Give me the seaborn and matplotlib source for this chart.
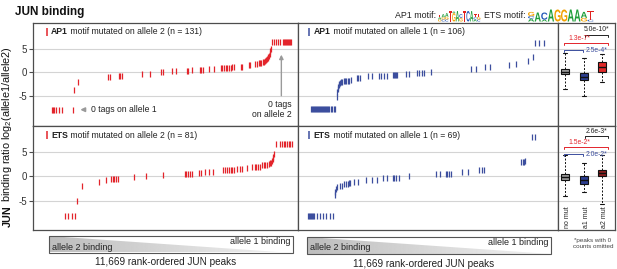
import matplotlib
matplotlib.use("Agg")
import matplotlib.pyplot as plt
import seaborn as sns
import numpy as np
import pandas as pd
from matplotlib.textpath import TextPath
from matplotlib.patches import PathPatch, Polygon, Rectangle
from matplotlib.font_manager import FontProperties
from matplotlib.transforms import Affine2D, blended_transform_factory

sns.set_style("white")
plt.rcParams["font.family"] = ["Liberation Sans", "DejaVu Sans"]
plt.rcParams["axes.unicode_minus"] = False
plt.rcParams["mathtext.fontset"] = "custom"
plt.rcParams["mathtext.rm"] = "Liberation Sans"
plt.rcParams["mathtext.default"] = "regular"

RED = "#e3242b"
BLUE = "#3c4e9e"
N_PEAKS = 11669

# AP1 motif mutated on allele 2 (red, top left)
ap1_a2_rank = [819, 877, 936, 994, 1155, 1257, 1754, 1813, 1988, 3290, 3377, 3787, 3845, 3918,
               4781, 5146, 5658, 5731, 6111, 6301, 6769, 6828, 7018, 7339, 7412, 7500, 7749, 7968,
               8275, 8333, 8421, 8480, 8553, 8626, 8699, 8772, 8845, 9138, 9211, 9503, 9576, 9795,
               9869, 9942, 10000, 10059, 10117, 10161, 10205, 10249, 10292, 10336, 10366, 10395,
               10424, 10453, 10483, 10526, 10599, 10716, 10789, 10863, 10994, 11038, 11082, 11126,
               11170, 11213, 11257, 11301, 11345]
ap1_a2_ratio = [-8.0, -8.0, -8.0, -8.0, -8.0, -8.0, -8.0, -3.7, -2.1, -0.9, -0.9, -0.75, -0.75, -0.7,
                -0.3, -0.25, 0.1, 0.1, 0.2, 0.2, 0.35, 0.35, 0.5, 0.6, 0.6, 0.6, 0.7, 0.75,
                0.9, 0.9, 0.95, 1.0, 1.0, 1.05, 1.05, 1.1, 1.1, 1.2, 1.25, 1.6, 1.65, 1.8,
                1.9, 1.95, 2.0, 2.1, 2.2, 2.3, 2.4, 2.6, 2.8, 3.0, 3.3, 3.6,
                4.0, 4.5, 5.0, 6.6, 6.6, 6.6, 6.6, 6.6, 6.6, 6.6, 6.6, 6.6,
                6.6, 6.6, 6.6, 6.6, 6.6]

# AP1 motif mutated on allele 1 (blue, top middle)
ap1_a1_rank = [566, 611, 656, 700, 745, 790, 834, 879, 924, 969, 1013, 1058, 1103, 1147, 1192, 1237,
               1281, 1326, 1386, 1460, 1535, 1609, 1669, 1743, 1758, 1773, 1788, 1818, 1848, 1892,
               1937, 1997, 2086, 2131, 2175, 2235, 2310, 2384, 2652, 2712, 2786, 3159, 3308, 3651,
               3725, 3844, 3978, 4276, 4321, 4366, 4410, 4455, 4843, 4992, 5334, 5439, 5543, 5662,
               5990, 7748, 8001, 8374, 8612, 9476, 9774, 10341, 10549, 10654, 10832, 11026]
ap1_a1_ratio = [-7.9, -7.9, -7.9, -7.9, -7.9, -7.9, -7.9, -7.9, -7.9, -7.9, -7.9, -7.9, -7.9, -7.9, -7.9, -7.9,
                -7.9, -7.9, -7.9, -7.9, -7.9, -7.9, -7.9, -5.3, -4.3, -3.6, -3.1, -2.8, -2.5, -2.3,
                -2.15, -2.0, -1.9, -1.9, -1.85, -1.8, -1.75, -1.6, -1.3, -1.25, -1.2, -0.85, -0.85, -0.75,
                -0.75, -0.7, -0.7, -0.55, -0.55, -0.5, -0.5, -0.5, -0.3, -0.3, -0.15, -0.15, -0.1, -0.1,
                0.1, 0.8, 0.8, 1.1, 1.15, 1.55, 1.8, 2.5, 3.4, 6.4, 6.4, 6.4]

# ETS motif mutated on allele 2 (red, bottom left)
ets_a2_rank = [1389, 1535, 1711, 1871, 1930, 2164, 2924, 3216, 3421, 3509, 3582, 3655, 3743, 4459,
               4985, 5716, 6696, 6754, 6828, 6901, 6988, 7310, 7398, 7573, 7749, 7909, 8363, 8450,
               8523, 8611, 8699, 8772, 8845, 8991, 9108, 9211, 9430, 9649, 9766, 9825, 9912, 9985,
               10088, 10161, 10234, 10307, 10380, 10439, 10497, 10526, 10556, 10585, 10614, 10716,
               10892, 10965, 11038, 11111, 11184, 11257, 11331, 11389]
ets_a2_ratio = [-8.1, -8.1, -8.1, -8.1, -5.1, -2.0, -1.15, -0.8, -0.55, -0.55, -0.55, -0.55, -0.55, -0.15,
                0.0, 0.2, 0.45, 0.45, 0.45, 0.45, 0.45, 0.75, 0.75, 0.95, 0.95, 0.95, 1.35, 1.35,
                1.35, 1.35, 1.35, 1.35, 1.35, 1.4, 1.4, 1.45, 1.6, 1.85, 1.9, 1.9, 1.95, 1.95,
                2.3, 2.35, 2.35, 2.4, 2.6, 2.7, 2.8, 3.2, 3.6, 4.0, 4.6, 6.6,
                6.6, 6.6, 6.6, 6.6, 6.6, 6.6, 6.6, 6.6]

# ETS motif mutated on allele 1 (blue, bottom middle)
ets_a1_rank = [447, 492, 536, 581, 626, 671, 715, 864, 983, 1118, 1252, 1416, 1579, 1639, 1669, 1699,
               1728, 1907, 1982, 2086, 2175, 2235, 2295, 2354, 2533, 2682, 3055, 3308, 3546, 3800,
               3993, 4247, 4321, 4410, 4515, 4992, 6184, 6377, 6631, 6705, 6794, 6884, 7376, 7629,
               8121, 8270, 8344, 10028, 10087, 10147, 10207, 10520, 10654]
ets_a1_ratio = [-8.1, -8.1, -8.1, -8.1, -8.1, -8.1, -8.1, -8.1, -8.1, -8.1, -8.1, -8.1, -8.1, -3.8, -3.2, -2.7,
                -2.2, -2.0, -2.0, -1.55, -1.5, -1.5, -1.45, -1.45, -1.15, -1.15, -0.7, -0.7, -0.7, -0.3,
                -0.3, -0.3, -0.3, -0.3, -0.3, 0.0, 0.55, 0.55, 0.55, 0.55, 0.55, 0.55, 0.9, 0.9,
                1.25, 1.25, 1.3, 2.9, 3.0, 3.0, 3.1, 8.1, 8.1]

# box plot summaries (right column)
box_groups = ["no mut", "a1 mut", "a2 mut"]
ap1_whislo = [-3.6, -5.1, -2.0]
ap1_q1 = [-0.43, -1.66, 0.13]
ap1_med = [0.06, -0.95, 1.2]
ap1_q3 = [0.65, -0.2, 2.15]
ap1_whishi = [4.2, 3.0, 3.9]
ets_whislo = [-4.0, -3.3, -5.6]
ets_q1 = [-0.82, -1.6, 0.06]
ets_med = [-0.14, -0.76, 0.6]
ets_q3 = [0.53, 0.06, 1.2]
ets_whishi = [4.3, 2.8, 4.3]
ap1_pvals = ["5.0e-10*", "1.3e-7*", "2.5e-4*"]
ets_pvals = ["2.6e-3*", "1.5e-2*", "2.0e-2*"]

W, H = 617, 269
fig = plt.figure(figsize=(W / 100, H / 100), dpi=100)


def px_axes(x0, y0, x1, y1):
    return fig.add_axes([x0 / W, 1 - y1 / H, (x1 - x0) / W, (y1 - y0) / H])


def style(ax, ylim, left_ticks):
    ax.set_ylim(*ylim)
    ax.set_yticks([-5, 0, 5])
    ax.yaxis.grid(True, color="#d4d4d4", lw=0.8)
    ax.set_axisbelow(True)
    ax.set_xticks([])
    ax.set_xlabel("")
    ax.set_ylabel("")
    for s in ax.spines.values():
        s.set_color("#4d4d4d")
        s.set_linewidth(0.9)
    if left_ticks:
        ax.tick_params(axis="y", left=True, length=3, width=0.8, color="#4d4d4d",
                       labelsize=7, labelcolor="#333333", pad=1.5)
    else:
        ax.tick_params(axis="y", left=False, labelleft=False)


def tick_scatter(ax, ranks, ratios, color):
    df = pd.DataFrame({"rank": ranks, "ratio": ratios})
    sns.scatterplot(data=df, x="rank", y="ratio", marker="|", s=24, color=color,
                    linewidth=0.9, ax=ax, legend=False, zorder=3)
    ax.set_xlim(0, N_PEAKS)


def panel_label(ax, x, motif, rest, color):
    ax.plot([x - 0.017], [0.913], marker="|", ms=6, mew=1.1, color=color,
            transform=ax.transAxes, clip_on=False)
    t = ax.text(x, 0.913, motif, transform=ax.transAxes, fontsize=6.2, fontweight="bold",
                va="center", ha="left", color="#222222")
    ax.annotate(rest, xy=(1, 0), xycoords=t, va="bottom", ha="left", fontsize=6.2, color="#222222")


def box_panel(ax, lo, q1, med, q3, hi, colors, pvals, ylim, yb, yt):
    stats = [dict(whislo=a, q1=b, med=c, q3=d, whishi=e, label=g)
             for a, b, c, d, e, g in zip(lo, q1, med, q3, hi, box_groups)]
    bp = ax.bxp(stats, positions=[0, 1, 2], widths=0.42, patch_artist=True, showfliers=False,
                boxprops=dict(edgecolor="#111111", linewidth=0.8),
                medianprops=dict(color="#111111", linewidth=1.0),
                whiskerprops=dict(color="#111111", linewidth=0.7, linestyle=(0, (2, 1.6))),
                capprops=dict(color="#111111", linewidth=0.8), capwidths=0.22, manage_ticks=False)
    for patch, c in zip(bp["boxes"], colors):
        patch.set_facecolor(c)
    ax.set_xlim(-0.4, 2.7)
    style(ax, ylim, False)
    # significance brackets: black (a1 vs a2), red (no vs a2), blue (no vs a1)
    d = 0.45
    ax.plot([1.05, 1.05, 2.3, 2.3], [yb[0] - d, yb[0], yb[0], yb[0] - d], color="#222222", lw=0.7)
    ax.text(1.72, yt[0], pvals[0], ha="center", va="center", fontsize=4.9, color="#222222")
    ax.plot([-0.1, -0.1, 2.3, 2.3], [yb[1] - d, yb[1], yb[1], yb[1] - d], color=RED, lw=0.7)
    ax.text(0.75, yt[1], pvals[1], ha="center", va="center", fontsize=4.9, color=RED)
    ax.plot([-0.1, -0.1, 0.95, 0.95], [yb[2] - d, yb[2], yb[2], yb[2] - d], color=BLUE, lw=0.7)
    ax.text(1.1, yb[2], pvals[2], ha="left", va="center", fontsize=4.9, color=BLUE)


ylim_top = (-11.5, 10.6)
ylim_bot = (-11.0, 10.3)

ax_tl = px_axes(33, 23, 298, 126)
ax_tm = px_axes(298, 23, 558, 126)
ax_tr = px_axes(558, 23, 615, 126)
ax_bl = px_axes(33, 126, 298, 230)
ax_bm = px_axes(298, 126, 558, 230)
ax_br = px_axes(558, 126, 615, 230)

tick_scatter(ax_tl, ap1_a2_rank, ap1_a2_ratio, RED)
tick_scatter(ax_tm, ap1_a1_rank, ap1_a1_ratio, BLUE)
tick_scatter(ax_bl, ets_a2_rank, ets_a2_ratio, RED)
tick_scatter(ax_bm, ets_a1_rank, ets_a1_ratio, BLUE)
style(ax_tl, ylim_top, True)
style(ax_tm, ylim_top, False)
style(ax_bl, ylim_bot, True)
style(ax_bm, ylim_bot, False)

panel_label(ax_tl, 0.068, "AP1", " motif mutated on allele 2 (n = 131)", RED)
panel_label(ax_tm, 0.061, "AP1", " motif mutated on allele 1 (n = 106)", BLUE)
panel_label(ax_bl, 0.068, "ETS", " motif mutated on allele 2 (n = 81)", RED)
panel_label(ax_bm, 0.061, "ETS", " motif mutated on allele 1 (n = 69)", BLUE)

# annotations for the zero-tag peaks
ax_tl.annotate("", xy=(1960, -8.0), xytext=(2420, -8.0),
               arrowprops=dict(arrowstyle="-|>", color="#9a9a9a", lw=1.2, mutation_scale=6))
ax_tl.text(2560, -8.0, "0 tags on allele 1", va="center", ha="left", fontsize=6.2, color="#222222")
ax_tl.annotate("", xy=(10936, 4.4), xytext=(10936, -5.6),
               arrowprops=dict(arrowstyle="-|>", color="#9a9a9a", lw=1.0, mutation_scale=6))
ax_tl.text(11400, -6.0, "0 tags\non allele 2", va="top", ha="right", multialignment="right",
           fontsize=6.2, color="#222222", linespacing=1.15)

box_panel(ax_tr, ap1_whislo, ap1_q1, ap1_med, ap1_q3, ap1_whishi,
          ["#9b9b9b", "#2b3d8f", "#e02a2a"], ap1_pvals, ylim_top, [8.0, 6.25, 4.8], [9.2, 7.25])
box_panel(ax_br, ets_whislo, ets_q1, ets_med, ets_q3, ets_whishi,
          ["#9b9b9b", "#2b3d8f", "#8e1f1f"], ets_pvals, ylim_bot, [8.2, 6.0, 4.55], [9.1, 7.0])
trans = blended_transform_factory(ax_br.transData, ax_br.transAxes)
for i, g in enumerate(box_groups):
    ax_br.text(i + 0.14, 0.015, g, rotation=90, transform=trans, ha="center", va="bottom",
               fontsize=5.0, color="#222222")

# overlay in pixel coordinates for the surrounding text and decorations
ov = fig.add_axes([0, 0, 1, 1])
ov.set_xlim(0, W)
ov.set_ylim(H, 0)
ov.axis("off")

ov.text(15, 12, "JUN binding", fontsize=8.5, fontweight="bold", va="center", ha="left", color="#111111")

t1 = ov.text(10.5, 227, "JUN", rotation=90, rotation_mode="anchor", ha="left", va="baseline",
             fontweight="bold", fontsize=7.8, color="#111111")
ov.annotate(" binding ratio log$_2$(allele1/allele2)", xy=(10.5, 1), xycoords=("data", t1),
            rotation=90, rotation_mode="anchor", ha="left", va="baseline", fontsize=7.8, color="#111111")

LOGO_COLORS = {"A": "#1f9e3a", "C": "#2458b8", "G": "#f2a100", "T": "#e0221f"}
logo_font = FontProperties(family="Liberation Sans", weight="bold")


def draw_logo(columns, x0, width, base, full):
    for i, stack in enumerate(columns):
        y = base
        for ch, frac in stack:
            h = frac * full
            tp = TextPath((0, 0), ch, size=1, prop=logo_font)
            bb = tp.get_extents()
            tr = Affine2D().translate(-bb.x0, -bb.y0).scale(width * 0.95 / bb.width, -h / bb.height)
            tr = tr.translate(x0 + i * width, y)
            ov.add_patch(PathPatch(tr.transform_path(tp), color=LOGO_COLORS[ch], lw=0))
            y -= h


ap1_logo = [[("G", 0.2), ("A", 0.2), ("T", 0.25)], [("C", 0.2), ("G", 0.2), ("A", 0.3)],
            [("C", 0.2), ("G", 0.25), ("A", 0.35)], [("T", 1.0)], [("G", 0.8), ("A", 0.15)],
            [("A", 1.0)], [("G", 0.35), ("C", 0.35)], [("T", 1.0)], [("C", 1.0)], [("A", 1.0)],
            [("A", 0.2), ("C", 0.2), ("T", 0.3)], [("C", 0.2), ("G", 0.25), ("T", 0.3)]]
ets_logo = [[("A", 0.25), ("C", 0.2), ("G", 0.35)], [("A", 0.75)], [("A", 0.15), ("C", 0.6)],
            [("A", 1.0)], [("G", 1.0)], [("G", 1.0)], [("A", 1.0)], [("A", 1.0)],
            [("G", 0.3), ("A", 0.5)], [("C", 0.15), ("T", 0.75)]]

ov.text(436, 16, "AP1 motif:", ha="right", va="center", fontsize=6.4, color="#222222")
draw_logo(ap1_logo, 438, 3.55, 21.5, 10.5)
ov.text(526, 16, "ETS motif:", ha="right", va="center", fontsize=6.4, color="#222222")
draw_logo(ets_logo, 528, 6.6, 21.5, 12)

grad = np.linspace(0.74, 0.95, 256).reshape(1, -1)


def wedge(x0, x1, y0, y1, ytext):
    poly = Polygon([(x0, y0), (x0, y1), (x1, y1)], closed=True, facecolor="none", edgecolor="none")
    ov.add_patch(poly)
    im = ov.imshow(grad, extent=[x0, x1, y1, y0], cmap="gray", vmin=0, vmax=1, aspect="auto")
    im.set_clip_path(poly)
    ov.add_patch(Rectangle((x0, y0), x1 - x0, y1 - y0, fill=False, edgecolor="#555555", lw=0.8))
    ov.text(x0 + 3, y0 + 11, "allele 2 binding", ha="left", va="center", fontsize=6.5, color="#222222")
    ov.text(x1 - 3, y0 + 5.5, "allele 1 binding", ha="right", va="center", fontsize=6.5, color="#222222")
    ov.text((x0 + x1) / 2 - 5, ytext, "11,669 rank-ordered JUN peaks", ha="center", va="center",
            fontsize=7.2, color="#222222")


wedge(49, 293, 236, 252.5, 262)
wedge(307, 551, 237, 254, 264)
ov.set_xlim(0, W)
ov.set_ylim(H, 0)

ov.text(593, 243.5, "*peaks with 0\ncounts omitted", ha="center", va="center", fontsize=4.5,
        color="#444444", linespacing=1.35)

fig.savefig("out.png", dpi=100)
